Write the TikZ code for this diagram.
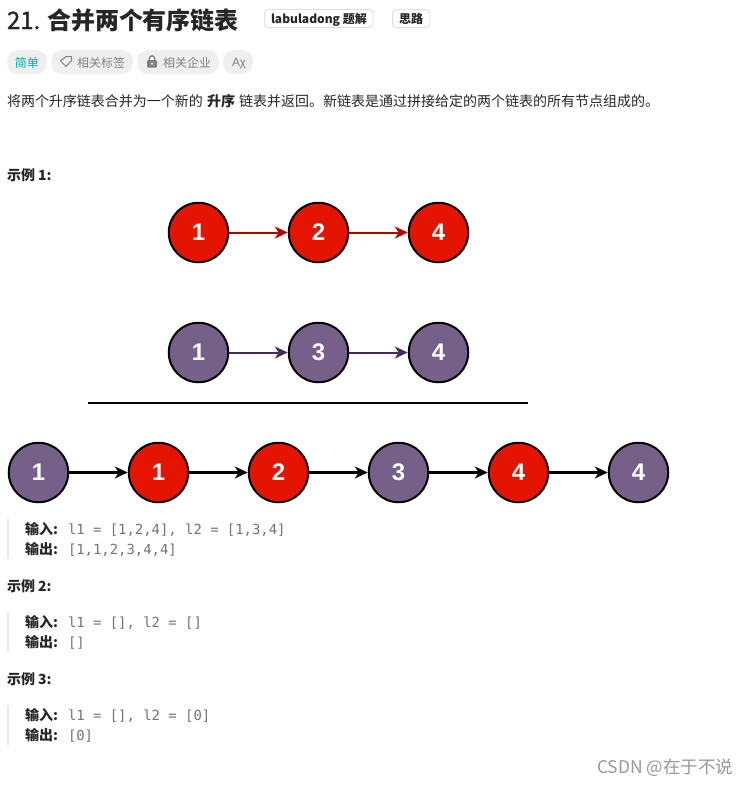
\documentclass[tikz,border=0pt]{standalone}
\usepackage{fontspec}
\setmainfont{Noto Sans CJK SC}
\newfontfamily\cnode{Liberation Sans}
\newfontfamily\cmono{DejaVu Sans Mono}
\newfontfamily\headnum[FakeBold=1.2]{Noto Sans CJK SC}
\usetikzlibrary{arrows.meta}
\definecolor{redfill}{HTML}{E51400}
\definecolor{purplefill}{HTML}{76608A}
\definecolor{redline}{HTML}{B20000}
\definecolor{purpleline}{HTML}{432D57}
\definecolor{inktext}{HTML}{262626}
\definecolor{codegrey}{HTML}{737373}
\definecolor{pillgrey}{HTML}{EFEFEF}
\definecolor{pilltext}{HTML}{808080}
\definecolor{tagedge}{HTML}{DCDFE3}
\definecolor{teal}{HTML}{00AFAF}
\definecolor{barcolor}{HTML}{E8E8E8}
\tikzset{
  listnode/.style={circle,draw=black,line width=2pt,minimum size=59.5pt,inner sep=0pt,text=white,font=\cnode\bfseries\fontsize{24}{24}\selectfont},
  rednode/.style={listnode,fill=redfill},
  purplenode/.style={listnode,fill=purplefill},
  linkred/.style={draw=redline,line width=2pt,-{Stealth[length=13pt,width=12pt,inset=4pt]}},
  linkpurple/.style={draw=purpleline,line width=2pt,-{Stealth[length=13pt,width=12pt,inset=4pt]}},
  linkblack/.style={draw=black,line width=2.2pt,-{Stealth[length=13pt,width=12pt,inset=4pt]}},
  txt/.style={anchor=base west,inner sep=0pt,outer sep=0pt,text=inktext},
  bodytxt/.style={txt,font=\fontsize{14}{14}\selectfont},
  boldtxt/.style={txt,font=\bfseries\fontsize{14}{14}\selectfont},
  codetxt/.style={txt,text=codegrey,font=\cmono\fontsize{13.9}{14}\selectfont},
  tagbox/.style={draw=tagedge,fill=white,line width=0.9pt,rounded corners=4pt},
  pill/.style={fill=pillgrey,rounded corners=11pt},
  quotebar/.style={fill=barcolor},
}
\begin{document}
\begin{tikzpicture}[x=1pt,y=-1pt]
\useasboundingbox (0,0) rectangle (749,785);
\fill[white] (0,0) rectangle (749,785);

% heading
\node[txt,font=\headnum\fontsize{24}{24}\selectfont] (num) at (7,29) {21.};
\node[txt,font=\bfseries\fontsize{24}{24}\selectfont] (title) at (47,29) {合并两个有序链表};
\draw[tagbox] (264.5,9.5) rectangle (373,27.5);
\node[txt,font=\bfseries\fontsize{12}{12}\selectfont] (t1) at (271,23) {labuladong 题解};
\draw[tagbox] (392.5,9.5) rectangle (430,27.5);
\node[txt,font=\bfseries\fontsize{12}{12}\selectfont] (t2) at (399,23) {思路};

% pills
\fill[pill] (7,50) rectangle (47,74);
\node[txt,text=teal,font=\fontsize{12}{12}\selectfont] (p1) at (15,67) {简单};
\fill[pill] (51,50) rectangle (133,74);
\draw[pilltext,line width=1pt,line join=round] (60.5,61) -- (66,56.5) -- (71.5,56.5) -- (71.5,60.5) -- (66,66.5) -- cycle;
\node[txt,text=pilltext,font=\fontsize{12}{12}\selectfont] (p2) at (77,67) {相关标签};
\fill[pill] (137,50) rectangle (219,74);
\fill[pilltext,rounded corners=1pt] (147,60) rectangle (157,67.5);
\draw[pilltext,line width=1.3pt] (149.3,60.5) -- (149.3,58.5) arc[start angle=180,end angle=360,radius=2.7] -- (154.7,60.5);
\fill[white] (152,63.7) circle (1.1);
\node[txt,text=pilltext,font=\fontsize{12}{12}\selectfont] (p3) at (163,67) {相关企业};
\fill[pill] (223,50) rectangle (253,74);
\node[txt,text=pilltext,font=\cnode\fontsize{12}{12}\selectfont] (p4) at (232,66) {A\kern-0.5pt χ};

% statement
\node[bodytxt] (s1) at (7,106) {将两个升序链表合并为一个新的};
\node[txt,font=\bfseries\fontsize{14}{14}\selectfont] (s2) at (207,106) {升序};
\node[bodytxt] (s3) at (239,106) {链表并返回。新链表是通过拼接给定的两个链表的所有节点组成的。};

% example 1
\node[boldtxt] (e1) at (7,180) {示例 1:};

\node[rednode] (a1) at (198.5,232.5) {1};
\node[rednode] (a2) at (318.5,232.5) {2};
\node[rednode] (a3) at (438.5,232.5) {4};
\draw[linkred] (a1) -- (a2);
\draw[linkred] (a2) -- (a3);

\node[purplenode] (b1) at (198.5,352.5) {1};
\node[purplenode] (b2) at (318.5,352.5) {3};
\node[purplenode] (b3) at (438.5,352.5) {4};
\draw[linkpurple] (b1) -- (b2);
\draw[linkpurple] (b2) -- (b3);

\coordinate (ruleL) at (88,402.5);
\coordinate (ruleR) at (528,402.5);
\draw[black,line width=2pt] (ruleL) -- (ruleR);

\node[purplenode] (c1) at (38.5,472.5) {1};
\node[rednode] (c2) at (158.5,472.5) {1};
\node[rednode] (c3) at (278.5,472.5) {2};
\node[purplenode] (c4) at (398.5,472.5) {3};
\node[rednode] (c5) at (518.5,472.5) {4};
\node[purplenode] (c6) at (638.5,472.5) {4};
\draw[linkblack] (c1) -- (c2);
\draw[linkblack] (c2) -- (c3);
\draw[linkblack] (c3) -- (c4);
\draw[linkblack] (c4) -- (c5);
\draw[linkblack] (c5) -- (c6);

\fill[quotebar] (7,519) rectangle (9,559);
\node[boldtxt] (i1) at (25,534) {输入:};
\node[codetxt] (i1v) at (68,534) {l1 = [1,2,4], l2 = [1,3,4]};
\node[boldtxt] (o1) at (25,554) {输出:};
\node[codetxt] (o1v) at (68,554) {[1,1,2,3,4,4]};

% example 2
\node[boldtxt] (e2) at (7,591) {示例 2:};
\fill[quotebar] (7,612) rectangle (9,652);
\node[boldtxt] (i2) at (25,627) {输入:};
\node[codetxt] (i2v) at (68,627) {l1 = [], l2 = []};
\node[boldtxt] (o2) at (25,647) {输出:};
\node[codetxt] (o2v) at (68,647) {[]};

% example 3
\node[boldtxt] (e3) at (7,684) {示例 3:};
\fill[quotebar] (7,705) rectangle (9,745);
\node[boldtxt] (i3) at (25,720) {输入:};
\node[codetxt] (i3v) at (68,720) {l1 = [], l2 = [0]};
\node[boldtxt] (o3) at (25,740) {输出:};
\node[codetxt] (o3v) at (68,740) {[0]};

% watermark
\node[txt,text=black!40,font=\fontsize{17.5}{18}\selectfont] (wm) at (597,773) {CSDN @在于不说};
\end{tikzpicture}
\end{document}
